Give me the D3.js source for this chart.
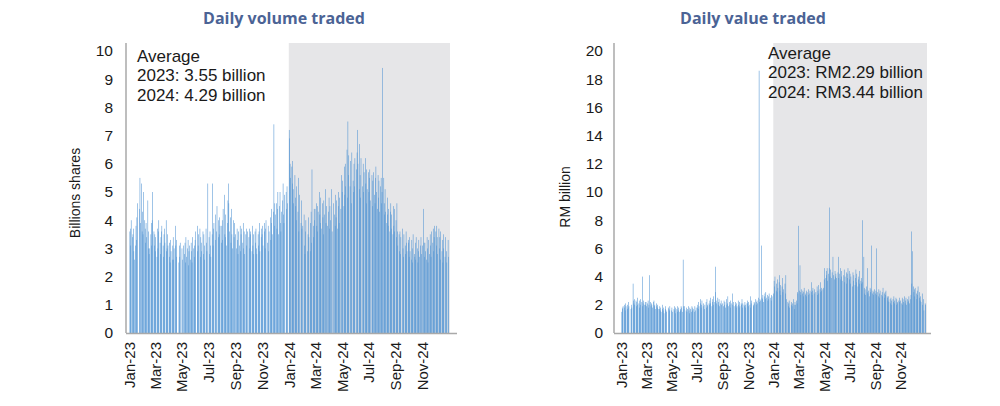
<!DOCTYPE html>
<html><head><meta charset="utf-8">
<script src="https://cdn.jsdelivr.net/npm/d3@7/dist/d3.min.js"></script>
<style>body{margin:0;background:#fff}svg{display:block}</style>
</head><body>
<svg id="c" width="1000" height="406"></svg>
<script>
// ---------- DATA ----------
const tickMonths = ["Jan-23","Mar-23","May-23","Jul-23","Sep-23","Nov-23","Jan-24","Mar-24","May-24","Jul-24","Sep-24","Nov-24"];
const volumeTicks = [0,1,2,3,4,5,6,7,8,9,10];
const valueTicks = [0,2,4,6,8,10,12,14,16,18,20];
const volumeNote = ["Average","2023: 3.55 billion","2024: 4.29 billion"];
const valueNote = ["Average","2023: RM2.29 billion","2024: RM3.44 billion"];
const holidays = ["2023-01-02","2023-01-23","2023-01-24","2023-04-21","2023-04-24","2023-05-01","2023-05-04","2023-06-05","2023-06-29","2023-07-19","2023-08-31","2023-09-28","2023-11-13","2023-12-25",
"2024-01-01","2024-01-25","2024-02-01","2024-02-12","2024-03-28","2024-04-10","2024-04-11","2024-05-01","2024-05-22","2024-06-03","2024-06-17","2024-07-08","2024-09-16","2024-10-31","2024-12-25"];

// daily volume traded (billion shares), one row per month
const volume2023 = [
[3.6,3.7,3.1,4.0,3.4,3.5,3.7,2.9,2.6,3.1,3.8,3.3,4.1,4.6,4.4,5.5,3.9,5.3,3.6],
[4.3,3.5,5.0,4.0,3.7,3.2,3.9,3.4,4.7,3.0,3.6,2.8,3.0,3.5,3.9,3.1,4.0,5.0,3.6,3.1],
[3.5,2.9,3.4,2.7,3.7,3.0,3.6,4.0,3.2,2.8,3.4,3.6,3.8,3.1,2.7,3.5,3.7,3.2,4.0,2.9,3.0,3.5,3.1],
[3.2,2.7,2.5,3.3,2.9,2.6,3.1,3.4,2.6,3.0,3.8,3.1,2.7,3.3,2.5,3.1,2.7,3.2],
[3.0,2.6,3.1,2.8,3.2,2.5,3.4,2.7,3.0,3.3,2.4,2.9,3.1,2.6,3.2,2.9,2.5,3.4,3.0,2.7,3.1],
[3.3,3.6,2.9,3.8,3.1,3.5,3.7,2.7,3.4,3.2,2.9,3.6,2.8,3.5,3.1,2.6,3.7,3.2,2.9,5.3],
[3.4,2.8,3.6,3.1,2.7,3.5,5.3,3.1,3.7,3.9,3.3,4.2,3.6,4.5,3.4,4.0,3.5,4.1,3.8,3.2],
[3.8,4.0,3.3,4.4,4.9,3.5,3.4,4.2,3.1,3.9,4.7,5.3,4.6,3.6,4.1,3.2,4.4,3.5,3.0,4.0,3.4,3.9],
[3.5,3.0,3.7,3.3,2.8,3.6,3.1,3.8,2.9,3.5,3.7,3.2,3.9,3.0,3.6,2.8,3.5,3.7,3.1,3.6],
[3.4,3.7,3.0,3.5,3.6,2.9,3.8,3.1,3.5,2.8,3.6,3.2,3.7,3.0,2.8,3.5,3.1,3.6,3.9,2.9,3.4,3.7],
[3.5,3.8,3.1,3.9,3.6,3.0,3.7,4.0,3.2,3.8,2.9,3.6,4.1,3.3,3.9,4.4,3.5,4.3,7.4,3.8,4.6],
[4.2,4.6,3.7,4.4,5.0,3.5,4.5,5.0,3.9,3.6,4.3,4.7,5.3,4.2,3.9,4.9,5.0,4.4,5.2,4.6]
];
const volume2024 = [
[7.2,6.9,6.0,5.5,5.9,5.3,6.1,5.1,4.6,5.6,4.8,4.5,4.0,5.2,4.3,5.5,3.6,4.9,3.9,4.7,3.7],
[3.8,4.2,3.1,2.8,3.6,4.0,2.9,3.5,4.1,3.4,2.9,3.9,4.3,3.2,5.8,3.8,3.4,4.4,4.0],
[4.4,4.6,3.8,4.5,3.6,4.3,5.0,4.2,3.9,4.8,3.7,4.6,4.1,3.5,4.7,4.2,5.1,3.9,4.5,3.8],
[4.3,4.8,3.7,4.5,4.0,5.1,3.6,4.6,4.2,3.8,4.9,4.1,4.7,3.7,4.5,5.0,3.9,4.8,4.4,5.6],
[5.0,5.4,4.5,5.9,4.9,6.0,5.2,6.5,4.8,7.5,5.6,6.3,5.2,6.1,4.6,6.4,5.4,5.0,6.0,5.2,6.2],
[5.8,6.4,7.2,6.0,5.1,6.7,5.6,4.8,6.2,5.2,6.0,5.0,5.7,6.2,5.3,4.6,5.8,5.1],
[5.7,5.0,5.5,5.8,4.7,5.6,4.5,5.4,5.7,4.9,4.6,5.5,5.9,5.0,4.4,5.6,4.8,5.4,4.3,5.2,5.5,4.6],
[5.0,9.4,5.5,4.6,4.2,5.1,4.3,3.9,4.8,4.2,3.8,4.4,3.6,4.3,4.6,3.7,4.2,3.5,4.5,3.8,3.6,4.4],
[4.0,3.4,4.6,3.6,3.1,3.5,2.9,3.6,2.8,3.4,3.7,3.0,2.7,3.5,3.1,2.8,3.6,3.2,2.9,3.3],
[3.2,2.7,3.4,2.9,2.6,3.3,3.0,2.5,3.5,2.8,2.7,3.2,2.6,3.4,3.0,2.5,2.9,3.3,2.7,3.1,3.4,2.8],
[3.1,4.4,3.2,2.7,3.2,2.9,2.6,3.4,3.0,2.5,3.3,2.8,3.5,3.1,2.7,3.6,3.2,3.7,2.9,3.4,3.8],
[3.6,3.1,3.8,3.4,2.8,3.7,3.0,3.4,2.6,3.6,2.9,3.3,2.5,3.5,3.0,2.7,3.4,2.9,2.5,3.3,2.7]
];
// daily value traded (RM billion), one row per month
const value2023 = [
[1.5,1.8,1.7,1.9,2.0,1.8,1.6,2.1,1.9,1.7,2.0,1.8,2.2,1.9,1.7,2.0,1.8,3.5,2.3],
[2.1,2.4,2.0,2.3,1.9,2.2,2.5,2.0,2.1,1.8,2.3,2.0,2.4,2.2,1.9,4.0,2.1,2.3,2.0,2.2],
[2.0,2.2,1.9,2.1,2.3,1.8,2.0,4.1,2.2,1.9,2.1,2.0,1.8,2.2,2.3,1.9,2.0,1.7,2.1,1.9,2.0,1.8,1.7],
[1.7,1.9,1.6,1.8,1.5,1.7,2.0,1.6,1.8,1.4,1.7,1.9,1.6,1.5,1.8,1.7,1.6,1.9],
[1.6,1.8,1.5,1.7,1.9,1.6,1.4,1.8,1.7,1.5,1.9,1.6,1.8,1.5,1.7,1.6,1.9,1.8,1.5,5.2,1.9],
[1.7,1.9,1.6,1.8,1.5,1.7,1.9,1.6,1.4,1.8,1.7,1.5,1.9,1.6,1.8,1.7,1.5,1.9,1.6,1.8],
[1.8,2.0,1.7,2.2,1.9,2.4,2.1,1.8,2.0,2.3,1.9,2.1,1.7,2.0,2.2,1.8,2.4,2.0,1.9,2.1],
[2.0,2.3,2.1,2.5,1.9,2.2,2.4,2.0,2.6,2.2,2.9,4.7,2.3,2.1,2.5,2.0,2.2,2.4,1.9,2.1,2.3,2.0],
[2.1,1.9,2.3,2.0,2.2,1.8,2.4,2.0,2.1,2.6,1.9,2.2,2.0,2.3,1.8,2.1,2.8,2.0,2.2,1.9],
[2.0,2.2,1.8,2.1,1.9,2.3,2.0,1.8,2.2,1.9,2.1,2.0,2.4,1.8,2.1,2.0,1.9,2.2,2.0,1.8,2.1,2.3],
[2.1,1.9,2.2,2.0,2.6,1.8,2.1,2.3,2.0,1.9,2.2,2.1,2.4,2.0,2.2,2.3,2.1,2.5,18.6,2.2,2.4],
[2.3,6.2,2.5,2.4,2.7,2.2,2.6,2.8,2.4,2.9,2.5,2.7,2.3,2.6,2.4,2.8,2.5,2.3,2.7,2.6]
];
const value2024 = [
[2.8,3.7,3.3,4.0,3.0,3.5,2.9,3.8,3.2,3.6,4.1,3.0,3.4,2.7,3.3,3.9,2.9,3.1,3.5,2.8,4.1],
[2.4,2.2,1.9,2.1,2.3,1.8,2.0,2.2,1.9,2.1,2.4,2.0,1.7,2.2,2.0,2.3,2.1,2.9,2.8],
[7.6,3.0,4.8,2.9,2.7,3.1,2.8,3.0,2.6,2.9,3.2,2.7,2.8,3.0,2.6,2.9,3.1,2.7,2.8,3.0],
[2.9,3.6,2.7,3.0,3.2,2.8,3.1,2.9,3.3,2.7,3.0,3.4,2.8,3.1,3.6,2.9,3.2,3.0,3.1,3.2],
[3.8,4.6,3.9,4.4,4.1,4.6,3.7,4.2,4.6,8.9,4.0,4.5,3.9,4.3,5.4,4.1,3.8,4.4,4.0,4.2,3.9],
[4.3,5.4,3.9,4.2,4.6,3.8,4.4,4.0,3.7,4.1,4.5,3.6,4.0,4.3,3.5,4.2,3.9,4.6],
[4.4,3.8,4.2,3.5,4.0,3.3,4.3,3.7,4.1,3.4,3.9,4.5,3.6,4.2,3.3,3.8,4.0,3.5,4.4,3.7,3.5,3.9],
[3.6,8.0,5.4,3.2,2.8,3.1,2.7,3.3,2.9,4.6,2.8,3.0,2.6,3.2,2.9,3.1,6.2,2.8,3.0,2.7,2.9,3.1],
[2.8,3.0,6.0,2.7,2.9,2.6,3.1,2.8,2.5,3.0,2.7,2.9,2.6,3.2,2.8,2.5,2.9,2.7,3.0,2.6],
[2.5,2.3,2.6,2.2,2.4,2.1,2.5,2.3,2.0,2.4,2.2,2.6,2.1,2.3,2.5,2.0,2.4,2.2,2.1,2.3,2.5,2.2],
[2.3,2.1,2.5,2.0,2.4,2.2,2.6,2.1,2.3,2.5,2.0,2.4,2.2,2.3,2.6,2.1,2.4,2.7,7.2,3.5,5.8],
[3.3,2.9,3.1,2.6,3.2,2.8,2.4,3.0,2.7,3.3,2.5,2.9,2.3,2.6,2.2,2.8,2.0,2.4,1.6,2.1,2.0]
];

// ---------- HELPERS ----------
const fmt = d3.timeFormat("%Y-%m-%d");
const hol = new Set(holidays);
function tradingDays(year, month){
  const days = d3.timeDay.range(new Date(year, month, 1), new Date(year, month + 1, 1));
  return days.filter(d => d.getDay() !== 0 && d.getDay() !== 6 && !hol.has(fmt(d)));
}
function toSeries(year, rows){
  const out = [];
  rows.forEach((vals, m) => {
    const days = tradingDays(year, m);
    vals.forEach((v, i) => { if (i < days.length) out.push({date: days[i], v}); });
  });
  return out;
}
const volumeData = toSeries(2023, volume2023).concat(toSeries(2024, volume2024));
const valueData = toSeries(2023, value2023).concat(toSeries(2024, value2024));
const parseTick = d3.timeParse("%b-%y");

const svg = d3.select("#c");
const FONT = "'Liberation Sans', Arial, sans-serif";
const TITLE_FONT = "'Open Sans', 'Liberation Sans', sans-serif";

function drawChart(cfg){
  const g = svg.append("g");
  const x = d3.scaleTime().domain([new Date(2023,0,1), new Date(2025,0,1)]).range([cfg.x0, cfg.x1]);
  const y = d3.scaleLinear().domain([0, cfg.yMax]).range([cfg.yBase, cfg.yTopTick]);

  // shaded 2024 region
  g.append("rect")
    .attr("x", x(new Date(2024,0,1))).attr("y", cfg.shadeTop)
    .attr("width", cfg.x1 - x(new Date(2024,0,1)) + 1).attr("height", cfg.yBase - cfg.shadeTop)
    .attr("fill", "#e6e6e8");

  // bars
  const bw = 0.55;
  g.append("g").selectAll("rect").data(cfg.data).join("rect")
    .attr("x", d => x(d.date) - bw/2)
    .attr("y", d => y(d.v))
    .attr("width", bw)
    .attr("height", d => y(0) - y(d.v))
    .attr("fill", "#5194d3");

  // axis lines
  g.append("line").attr("x1", cfg.axisX).attr("x2", cfg.axisX).attr("y1", cfg.shadeTop).attr("y2", cfg.yBase)
    .attr("stroke", "#a9a9a9").attr("stroke-width", 1.5);
  g.append("line").attr("x1", cfg.axisX).attr("x2", cfg.axisEnd).attr("y1", cfg.yBase + 0.5).attr("y2", cfg.yBase + 0.5)
    .attr("stroke", "#a9a9a9").attr("stroke-width", 1.5);

  // y axis
  const ya = g.append("g").attr("transform", `translate(${cfg.axisX},0)`)
    .call(d3.axisLeft(y).tickValues(cfg.ticks).tickSize(0).tickPadding(cfg.axisX - cfg.labelRight));
  ya.select(".domain").remove();
  ya.selectAll("text").attr("font-family", FONT).attr("font-size", 15.5).attr("fill", "#1a1a1a");

  // x axis
  const xa = g.append("g").attr("transform", `translate(0,${cfg.yBase})`)
    .call(d3.axisBottom(x).tickValues(tickMonths.map(parseTick)).tickFormat(d3.timeFormat("%b-%y")).tickSize(0));
  xa.select(".domain").remove();
  xa.selectAll("text")
    .attr("font-family", FONT).attr("font-size", 15).attr("fill", "#1a1a1a")
    .attr("text-anchor", "end").attr("transform", "rotate(-90)")
    .attr("x", -9).attr("y", 0).attr("dy", "0.36em");

  // title
  g.append("text").attr("x", cfg.titleX).attr("y", 24).attr("text-anchor", "middle")
    .attr("font-family", TITLE_FONT).attr("font-weight", 700).attr("font-size", 16)
    .attr("fill", "#4b6395").text(cfg.title);

  // y label
  g.append("text").attr("transform", `translate(${cfg.yLabelX},${cfg.yLabelY}) rotate(-90)`)
    .attr("text-anchor", "middle").attr("dy", "0.35em")
    .attr("font-family", FONT).attr("font-size", 14).attr("fill", "#1a1a1a").text(cfg.yLabel);

  // note
  g.append("g").selectAll("text").data(cfg.note).join("text")
    .attr("x", cfg.noteX).attr("y", (d, i) => cfg.noteY + i * 19.6)
    .attr("font-family", FONT).attr("font-size", 17).attr("fill", "#1a1a1a").text(d => d);
}

drawChart({data: volumeData, x0: 129, x1: 449, axisX: 126, axisEnd: 457, yBase: 333, yTopTick: 51, shadeTop: 43,
  yMax: 10, ticks: volumeTicks, labelRight: 113, title: "Daily volume traded", titleX: 284,
  yLabel: "Billions shares", yLabelX: 75, yLabelY: 193, note: volumeNote, noteX: 137, noteY: 61.5});
drawChart({data: valueData, x0: 621, x1: 926, axisX: 614, axisEnd: 931, yBase: 333, yTopTick: 51, shadeTop: 43,
  yMax: 20, ticks: valueTicks, labelRight: 603, title: "Daily value traded", titleX: 753,
  yLabel: "RM billion", yLabelX: 565, yLabelY: 197, note: valueNote, noteX: 768, noteY: 58.5});
</script>
</body></html>
